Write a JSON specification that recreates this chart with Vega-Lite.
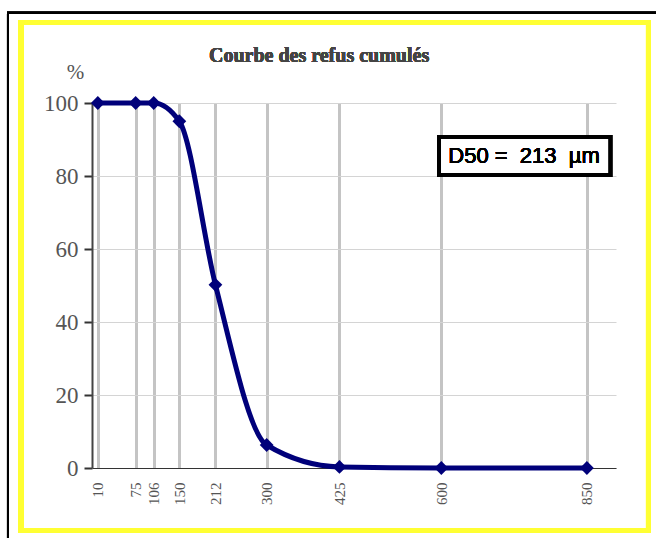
{
  "$schema": "https://vega.github.io/schema/vega-lite/v6.json",
  "width": 524,
  "height": 365,
  "autosize": {"type": "none"},
  "padding": {"left": 92, "top": 103, "right": 40, "bottom": 70},
  "background": "white",
  "config": {"view": {"stroke": null}},
  "data": {"values": [
    {"taille": 10, "refus": 100},
    {"taille": 75, "refus": 100},
    {"taille": 106, "refus": 100},
    {"taille": 150, "refus": 95},
    {"taille": 212, "refus": 50.2},
    {"taille": 300, "refus": 6.3},
    {"taille": 425, "refus": 0.3},
    {"taille": 600, "refus": 0},
    {"taille": 850, "refus": 0}
  ]},
  "layer": [
    {
      "mark": {"type": "rect", "fill": null, "stroke": "black", "strokeWidth": 2},
      "encoding": {
        "x": {"datum": -144.3, "type": "quantitative", "scale": {"domain": [0, 900], "nice": false, "zero": false},
          "axis": {"values": [10, 75, 106, 150, 212, 300, 425, 600, 850], "title": null, "grid": true, "gridColor": "#c4c4c4", "gridWidth": 3, "ticks": false, "domainColor": "#333", "domainWidth": 1, "labelAngle": -90, "labelFont": "Liberation Serif", "labelFontSize": 15, "labelColor": "#555", "labelPadding": 14, "labelFlush": false, "labelOverlap": false}},
        "x2": {"datum": 1000},
        "y": {"datum": 124.7, "type": "quantitative", "scale": {"domain": [0, 100], "nice": false, "zero": false},
          "axis": {"values": [0, 20, 40, 60, 80, 100], "title": "%", "titleAngle": 0, "titleX": -17, "titleY": -31, "titleAlign": "center", "titleBaseline": "middle", "titleFont": "Liberation Serif", "titleFontSize": 21, "titleFontWeight": "normal", "titleColor": "#555", "grid": true, "gridColor": "#d4d4d4", "gridWidth": 1, "tickColor": "#333", "tickWidth": 2, "tickSize": 8, "domainColor": "#444", "domainWidth": 2, "labelFont": "Liberation Serif", "labelFontSize": 23, "labelColor": "#555", "labelPadding": 6}},
        "y2": {"datum": -30}
      }
    },
    {
      "mark": {"type": "rect", "fill": null, "stroke": "#ffff33", "strokeWidth": 5},
      "encoding": {
        "x": {"datum": -121.9, "type": "quantitative"},
        "x2": {"datum": 955.8},
        "y": {"datum": 122.05, "type": "quantitative"},
        "y2": {"datum": -17.12}
      }
    },
    {
      "mark": {"type": "line", "interpolate": "monotone", "color": "#00007a", "strokeWidth": 5},
      "encoding": {
        "x": {"field": "taille", "type": "quantitative"},
        "y": {"field": "refus", "type": "quantitative"}
      }
    },
    {
      "mark": {"type": "point", "shape": "diamond", "filled": true, "color": "#00007a", "size": 190, "opacity": 1},
      "encoding": {
        "x": {"field": "taille", "type": "quantitative"},
        "y": {"field": "refus", "type": "quantitative"}
      }
    },
    {
      "mark": {"type": "rect", "fill": "white", "stroke": "black", "strokeWidth": 4},
      "encoding": {
        "x": {"datum": 596, "type": "quantitative"},
        "x2": {"datum": 890},
        "y": {"datum": 90.7, "type": "quantitative"},
        "y2": {"datum": 80.3}
      }
    },
    {
      "mark": {"type": "text", "text": "D50 =\u00a0 213 \u00a0µm", "font": "Liberation Sans", "fontSize": 22, "color": "black", "align": "center", "baseline": "middle"},
      "encoding": {
        "x": {"datum": 742, "type": "quantitative"},
        "y": {"datum": 85.6, "type": "quantitative"}
      }
    },
    {
      "mark": {"type": "text", "text": "Courbe des refus cumulés", "font": "Liberation Serif", "fontSize": 20, "fontWeight": "bold", "color": "#444", "align": "center", "baseline": "middle"},
      "encoding": {
        "x": {"datum": 390, "type": "quantitative"},
        "y": {"datum": 112.9, "type": "quantitative"}
      }
    }
  ]
}
